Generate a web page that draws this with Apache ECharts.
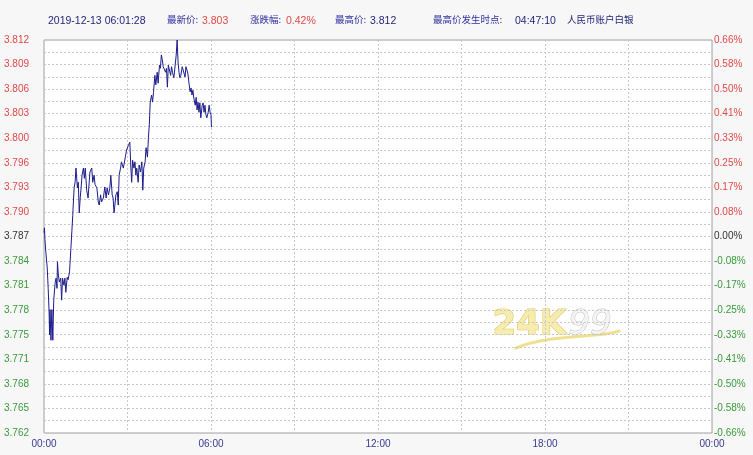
<!DOCTYPE html>
<html>
<head>
<meta charset="utf-8">
<script src="https://cdn.jsdelivr.net/npm/echarts@6/dist/echarts.min.js"></script>
<style>html,body{margin:0;padding:0;background:#f7f7f7;}#c{width:753px;height:455px;}</style>
</head>
<body>
<div id="c"></div>
<script>
// ---- data ----
const basePrice = 3.787;
const yMin = 3.762, yMax = 3.812;
const yStep = 0.0015625;          // minor grid step (labels every 2 steps)
const xTickLabels = ['00:00', '06:00', '12:00', '18:00', '00:00'];
const times = [
 '00:00','00:01','00:02','00:04','00:07','00:09','00:11','00:12','00:13','00:15','00:17','00:19','00:21','00:24','00:26','00:28','00:29','00:31','00:33','00:36','00:38','00:40','00:43','00:45','00:47','00:50','00:52','00:55','00:58',
 '01:00','01:02','01:03','01:05','01:07','01:09','01:10','01:12','01:14','01:16','01:18','01:20','01:22','01:25','01:27','01:29','01:32','01:35','01:39','01:43','01:45','01:48','01:50','01:54','01:57','01:59',
 '02:02','02:04','02:08','02:11','02:14','02:16','02:19','02:22','02:24','02:27','02:29','02:31','02:35','02:38','02:40','02:42','02:45','02:47','02:51','02:55','02:58',
 '03:02','03:05','03:07','03:09','03:11','03:14','03:16','03:18','03:20','03:23','03:25','03:28','03:31','03:33','03:35','03:38','03:40','03:43','03:45','03:47','03:49','03:52','03:54','03:56','03:59',
 '04:01','04:04','04:06','04:09','04:11','04:13','04:15','04:17','04:19','04:22','04:24','04:26','04:28','04:31','04:33','04:35','04:37','04:40','04:42','04:45','04:47','04:49','04:51','04:53','04:55','04:58',
 '05:00','05:02','05:04','05:06','05:08','05:10','05:13','05:15','05:17','05:19','05:21','05:23','05:26','05:28','05:30','05:32','05:34','05:36','05:38','05:41','05:43','05:45','05:47','05:49','05:51','05:54','05:56','05:58',
 '06:00','06:01'
];
const prices = [
 3.7875,3.7881,3.7866,3.7850,3.7830,3.7804,3.7774,3.7745,3.7777,3.7738,3.7777,3.7738,3.7789,3.7811,3.7817,3.7804,3.7838,3.7821,3.7812,3.7817,3.7789,3.7817,3.7808,3.7817,3.7799,3.7818,3.7815,3.7825,3.7855,
 3.7876,3.7897,3.7910,3.7932,3.7939,3.7957,3.7948,3.7932,3.7939,3.7900,3.7919,3.7932,3.7948,3.7957,3.7944,3.7957,3.7929,3.7919,3.7952,3.7957,3.7939,3.7948,3.7936,3.7932,3.7914,3.7910,
 3.7923,3.7914,3.7919,3.7933,3.7919,3.7932,3.7923,3.7932,3.7948,3.7923,3.7919,3.7900,3.7923,3.7927,3.7910,3.7948,3.7957,3.7965,3.7957,3.7970,3.7980,
 3.7986,3.7990,3.7961,3.7939,3.7967,3.7957,3.7965,3.7948,3.7957,3.7939,3.7961,3.7952,3.7965,3.7929,3.7957,3.7965,3.7983,3.7971,3.7995,3.8012,3.8041,3.8050,3.8041,3.8053,3.8075,
 3.8063,3.8079,3.8065,3.8088,3.8084,3.8101,3.8095,3.8086,3.8088,3.8079,3.8084,3.8060,3.8088,3.8086,3.8075,3.8086,3.8079,3.8072,3.8072,3.8101,3.8120,3.8092,3.8079,3.8072,3.8075,3.8086,
 3.8088,3.8084,3.8073,3.8086,3.8088,3.8078,3.8063,3.8054,3.8059,3.8050,3.8056,3.8046,3.8037,3.8047,3.8031,3.8041,3.8028,3.8040,3.8021,3.8037,3.8040,3.8028,3.8037,3.8025,3.8021,3.8028,3.8037,3.8028,
 3.8025,3.8009
];
const header = {
  time: '2019-12-13 06:01:28', last: '3.803', change: '0.42%', high: '3.812', highTime: '04:47:10', name: '人民币账户白银'
};

// ---- build ----
function toMin(s){ const p = s.split(':'); return (+p[0])*60 + (+p[1]); }
const seriesData = times.map((t, i) => [toMin(t), prices[i]]);

const RED = '#e04848', GREEN = '#3a9a3a', NAVY = '#26267a', LBL = '#3a3a90', CJKC = '#3030a0';
const FONT = '"Liberation Sans", Arial, sans-serif';
const CJK = '"Noto Sans CJK SC", sans-serif';

function stepIndex(v){ return Math.round((v - yMin) / yStep); }
function colorKey(v){
  const k = stepIndex(v);
  if (k === 16) return 'k';
  return k > 16 ? 'r' : 'g';
}
const richLbl = {
  r: {color: RED, fontSize: 10, fontFamily: FONT},
  g: {color: GREEN, fontSize: 10, fontFamily: FONT},
  k: {color: '#333', fontSize: 10, fontFamily: FONT}
};

const chart = echarts.init(document.getElementById('c'));
const hdrY = 22;
function txt(x, s, color, cjk){
  return {type: 'text', left: x, top: hdrY - (cjk ? 7 : 6),
    style: {text: s, fill: color, font: cjk ? '9.5px ' + CJK : '10.5px ' + FONT}};
}
chart.setOption({
  backgroundColor: '#f7f7f7',
  animation: false,
  grid: {left: 44, right: 41, top: 40, bottom: 22, show: true, backgroundColor: '#ffffff', borderColor: '#a0a0a0', borderWidth: 1},
  xAxis: {
    type: 'value', min: 0, max: 1440, interval: 180,
    axisLine: {show: false}, axisTick: {show: false},
    splitLine: {show: true, lineStyle: {color: '#c8c8c8', type: [2, 2], width: 1}},
    axisLabel: {
      margin: 6, color: LBL, fontSize: 10, fontFamily: FONT,
      formatter: v => (v % 360 === 0) ? xTickLabels[v / 360] : ''
    }
  },
  yAxis: [
    {
      type: 'value', min: yMin, max: yMax, interval: yStep, position: 'left',
      axisLine: {show: false}, axisTick: {show: false},
      splitLine: {show: true, lineStyle: {color: '#c8c8c8', type: [2, 2], width: 1}},
      axisLabel: {
        margin: 15, rich: richLbl,
        formatter: v => stepIndex(v) % 2 === 0 ? '{' + colorKey(v) + '|' + v.toFixed(3) + '}' : ''
      }
    },
    {
      type: 'value', min: yMin, max: yMax, interval: yStep, position: 'right',
      axisLine: {show: false}, axisTick: {show: false}, splitLine: {show: false},
      axisLabel: {
        margin: 2, rich: richLbl,
        formatter: v => {
          if (stepIndex(v) % 2 !== 0) return '';
          let p = (v / basePrice - 1) * 100;
          let s = (Math.abs(p) < 0.001 ? 0 : p).toFixed(2) + '%';
          return '{' + colorKey(v) + '|' + s + '}';
        }
      }
    }
  ],
  series: [{
    type: 'line', data: seriesData, showSymbol: false, symbol: 'none',
    lineStyle: {color: '#1c1c8a', width: 1}, z: 5
  }],
  graphic: [
    txt(48, header.time, NAVY),
    txt(167, '最新价:', CJKC, true),
    txt(202, header.last, RED),
    txt(250, '涨跌幅:', CJKC, true),
    txt(286, header.change, RED),
    txt(335, '最高价:', CJKC, true),
    txt(370, header.high, NAVY),
    txt(433, '最高价发生时点:', CJKC, true),
    txt(515, header.highTime, NAVY),
    txt(567, header.name, NAVY, true),
    // watermark
    {type: 'group', left: 492, top: 308, z: 0, silent: true, children: [
      {type: 'bezierCurve', shape: {x1: 22, y1: 40, cpx1: 60, cpy1: 24, cpx2: 108, cpy2: 30, x2: 128, y2: 22}, style: {stroke: '#efe090', lineWidth: 3, fill: null}},
      {type: 'text', x: 0, y: 0, style: {text: '24K', font: 'bold 34px "DejaVu Sans", sans-serif', fill: '#f6ecb0', stroke: '#e0c860', lineWidth: 1.2}},
      {type: 'text', x: 76, y: 0, style: {text: '99', font: 'italic 34px "DejaVu Sans", sans-serif', fill: '#f4f4f4', stroke: '#c0c0c0', lineWidth: 1}}
    ]}
  ]
});
</script>
</body>
</html>
